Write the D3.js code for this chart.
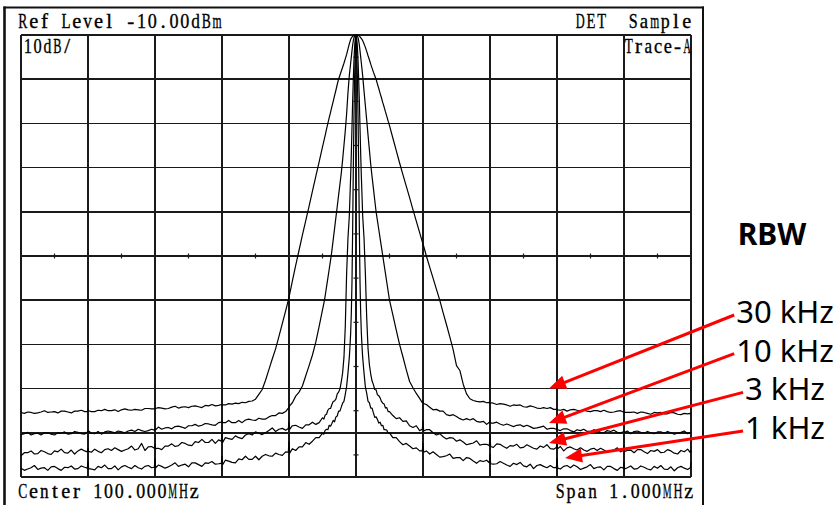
<!DOCTYPE html>
<html>
<head>
<meta charset="utf-8">
<script src="https://cdn.jsdelivr.net/npm/d3@7"></script>
<style>
  html, body { margin: 0; padding: 0; background: #fff; }
  svg { display: block; }
</style>
</head>
<body>
<svg id="chart" width="840" height="505"></svg>
<script>
// ---- Analyzer settings ----
const refLevelDbm = -10;
const dbPerDiv = 10;
const spanKHz = 1000;

// ---- Sweep points: frequency offset from the 100 MHz center, in kHz ----
const freqOffsetKHz = [
  -500,-495,-490,-485,-480,-475,-470,-465,-460,-455,-450,-445,-440,-435,-430,-425,-420,-415,-410,-405,
  -401,-400,-399,
  -395,-390,-385,-380,-375,-370,-365,-360,-355,-350,-345,-340,-335,-330,-325,-320,-315,-310,-305,
  -301,-300,-299,
  -295,-290,-285,-280,-275,-270,-265,-260,-255,-250,-245,-240,-235,-230,-225,-220,-215,-210,-205,
  -201,-200,-199,
  -195,-190,-185,-180,-175,-170,-165,-160,-155,-150,-145,-140,-135,-130,-125,-120,-115,-110,-105,
  -101,-100,-99,
  -95,-90,-85,-80,-75,-70,-65,-60,-55,-50,
  -48,-46,-44,-42,-40,-38,-36,-34,-32,-30,-28,-26,-24,-22,-20,-18,-16,-14,-12,-10,
  -9,-8,-7,-6,-5,-4,-3,-2,-1,0,1,2,3,4,5,6,7,8,9,
  10,12,14,16,18,20,22,24,26,28,30,32,34,36,38,40,42,44,46,48,
  50,55,60,65,70,75,80,85,90,95,
  99,100,101,
  105,110,115,120,125,130,135,140,145,150,155,160,165,170,175,180,185,190,195,
  199,200,201,
  205,210,215,220,225,230,235,240,245,250,255,260,265,270,275,280,285,290,295,
  299,300,301,
  305,310,315,320,325,330,335,340,345,350,355,360,365,370,375,380,385,390,395,
  399,400,401,
  405,410,415,420,425,430,435,440,445,450,455,460,465,470,475,480,485,490,495,
  499,500
];

// ---- Measured level (dBm) per sweep point, one trace per RBW setting ----
const traceRbw30k = [
  -95.4,-95.6,-95.3,-95.4,-95.6,-95.5,-95.3,-95.0,-95.4,-95.3,-95.2,-95.5,-95.1,-95.1,-95.3,-95.5,-95.1,-95.1,-94.9,-95.2,
  -95.2,-94.9,-95.0,
  -95.2,-95.2,-94.9,-95.0,-94.7,-95.0,-95.0,-94.8,-95.2,-94.8,-94.6,-94.8,-94.9,-94.7,-94.8,-94.9,-94.5,-94.5,-94.6,
  -94.6,-94.4,-94.5,
  -94.3,-94.4,-94.6,-94.5,-94.2,-94.0,-94.4,-94.2,-94.1,-94.3,-94.0,-93.9,-94.1,-94.3,-93.8,-93.9,-93.6,-93.9,-93.8,
  -93.6,-93.8,-93.7,
  -93.7,-93.4,-93.5,-93.3,-93.4,-93.1,-93.2,-92.9,-92.8,-92.4,-91.3,-90.2,-88.1,-85.7,-83.3,-81.0,-78.2,-75.3,-72.4,
  -70.0,-69.3,-68.6,
  -65.7,-62.1,-58.7,-55.3,-52.0,-48.7,-45.3,-42.0,-38.7,-35.3,
  -34.0,-32.7,-31.3,-30.0,-28.7,-27.5,-26.2,-25.0,-23.7,-22.5,-21.2,-20.0,-19.1,-18.2,-17.3,-16.4,-15.4,-14.4,-13.2,-12.0,
  -11.5,-11.0,-10.7,-10.5,-10.3,-10.2,-10.1,-10.0,-10.0,-10.0,-10.0,-10.0,-10.1,-10.1,-10.2,-10.4,-10.6,-10.8,-11.0,
  -11.3,-12.0,-12.8,-13.7,-14.7,-15.6,-16.6,-17.5,-18.4,-19.2,-20.0,-21.1,-22.1,-23.2,-24.2,-25.3,-26.3,-27.4,-28.4,-29.5,
  -30.5,-33.3,-36.1,-38.9,-41.6,-44.2,-46.8,-49.5,-52.1,-54.7,
  -56.8,-57.3,-57.8,
  -60.0,-62.5,-65.0,-67.5,-70.0,-72.8,-75.5,-78.3,-81.2,-84.8,-85.9,-89.0,-91.2,-92.3,-92.7,-92.9,-93.0,-92.9,-93.2,
  -93.1,-93.3,-93.2,
  -93.3,-93.6,-93.4,-93.5,-93.7,-94.0,-93.7,-93.8,-93.7,-94.1,-94.2,-93.9,-94.1,-94.4,-94.5,-94.3,-94.5,-94.3,-94.7,
  -94.7,-94.6,-94.8,
  -94.9,-94.7,-95.1,-94.8,-94.7,-94.9,-95.0,-94.9,-95.1,-95.2,-95.0,-95.0,-95.2,-94.9,-95.2,-95.4,-95.3,-95.1,-95.0,
  -95.3,-95.2,-95.4,
  -95.4,-95.4,-95.3,-95.6,-95.3,-95.4,-95.6,-95.8,-95.4,-95.5,-95.4,-95.7,-95.7,-95.4,-95.5,-95.8,-95.9,-95.6,-95.7,
  -95.6,-95.8
];

const traceRbw10k = [
  -100.4,-100.2,-99.9,-100.5,-100.2,-100.1,-100.5,-100.0,-100.0,-100.3,-100.5,-100.0,-100.1,-99.8,-100.3,-100.2,-99.7,-99.9,-100.2,-100.3,
  -99.8,-100.0,-99.6,
  -100.1,-100.2,-99.7,-100.3,-99.8,-99.6,-99.8,-100.0,-99.6,-99.8,-100.0,-99.6,-99.4,-99.7,-99.2,-99.5,-99.7,-99.5,-99.2,
  -99.4,-99.1,-99.3,
  -98.7,-99.2,-98.9,-98.8,-99.1,-98.6,-98.5,-98.7,-99.0,-98.4,-98.4,-98.1,-98.5,-98.3,-97.9,-98.0,-98.2,-98.3,-97.7,
  -97.6,-97.3,-97.7,
  -97.7,-97.2,-97.7,-97.7,-97.2,-97.7,-97.1,-96.9,-97.1,-97.2,-96.7,-96.9,-96.9,-96.4,-96.1,-96.1,-95.5,-95.6,-95.2,
  -94.4,-94.1,-93.9,
  -93.2,-91.7,-90.8,-89.4,-87.1,-84.8,-82.4,-79.5,-75.9,-72.2,
  -70.7,-69.0,-67.0,-65.0,-63.0,-61.0,-58.8,-56.3,-53.8,-51.3,-48.8,-46.3,-43.8,-41.3,-38.3,-35.0,-31.7,-27.8,-23.1,-19.2,
  -17.8,-16.4,-15.0,-13.6,-12.3,-11.3,-10.6,-10.2,-10.1,-10.0,-10.1,-10.2,-10.6,-11.3,-12.3,-13.6,-15.0,-16.4,-17.8,
  -19.3,-22.7,-26.0,-29.3,-32.7,-36.0,-39.3,-42.1,-44.7,-47.4,-50.0,-52.0,-54.0,-56.0,-58.0,-60.0,-62.0,-64.0,-66.0,-68.0,
  -70.0,-73.3,-76.7,-80.0,-82.8,-85.7,-88.4,-89.8,-91.1,-92.2,
  -93.2,-92.9,-93.4,
  -93.6,-94.2,-94.8,-94.7,-95.1,-95.1,-95.9,-96.1,-95.9,-96.3,-96.8,-97.1,-96.8,-97.1,-96.8,-97.4,-97.6,-97.4,-98.1,
  -97.6,-97.3,-97.8,
  -97.8,-97.6,-98.0,-98.3,-98.0,-98.3,-98.6,-98.3,-98.2,-98.6,-98.3,-98.6,-99.0,-98.9,-98.7,-98.5,-99.2,-99.0,-99.0,
  -99.2,-98.9,-99.3,
  -99.5,-99.1,-99.1,-99.5,-99.8,-99.3,-99.5,-99.2,-99.7,-99.7,-99.3,-99.5,-99.9,-100.0,-99.5,-99.7,-99.4,-99.9,-100.0,
  -99.8,-99.6,-99.9,
  -99.6,-100.2,-99.7,-99.6,-99.9,-100.1,-99.7,-100.0,-100.2,-99.8,-99.8,-100.1,-99.7,-100.0,-100.3,-100.1,-99.9,-99.6,-100.2,
  -100.0,-100.1
];

const traceRbw3k = [
  -105.2,-104.5,-104.5,-104.1,-104.8,-104.7,-104.0,-104.3,-104.7,-104.9,-104.1,-104.3,-103.7,-104.5,-104.6,-103.9,-104.8,-104.1,-103.7,-104.1,
  -104.3,-103.5,-104.2,
  -104.4,-103.7,-104.2,-104.5,-103.8,-103.6,-104.0,-103.4,-103.8,-104.2,-103.9,-103.6,-103.0,-103.9,-103.6,-102.4,-104.0,-103.2,-103.1,
  -103.5,-102.6,-103.6,
  -103.5,-103.8,-103.0,-103.0,-102.5,-103.1,-102.9,-102.2,-102.4,-102.8,-102.9,-102.0,-102.2,-101.5,-102.2,-102.2,-101.5,-102.4,-101.6,
  -101.9,-99.9,-102.2,
  -101.1,-101.3,-101.5,-100.7,-101.1,-101.3,-100.5,-100.2,-100.5,-99.8,-100.1,-100.4,-100.0,-99.5,-98.9,-99.7,-99.2,-99.0,-99.4,
  -99.0,-97.6,-99.2,
  -98.4,-98.3,-98.7,-99.0,-98.2,-98.2,-97.6,-98.1,-97.7,-96.6,
  -96.9,-96.0,-95.8,-94.9,-94.5,-94.5,-93.6,-92.9,-92.8,-92.4,-91.2,-90.8,-90.1,-88.5,-86.5,-83.0,-76.0,-64.0,-56.0,-51.0,
  -46.5,-42.0,-37.0,-31.0,-25.0,-20.0,-15.5,-12.5,-10.6,-10.0,-10.6,-12.5,-15.5,-20.0,-25.0,-31.0,-37.0,-42.0,-46.5,
  -51.0,-56.0,-64.0,-74.0,-81.0,-84.6,-86.7,-88.3,-89.1,-90.2,-90.3,-91.4,-91.6,-92.1,-92.9,-93.3,-93.5,-94.4,-94.3,-95.2,
  -95.2,-96.1,-96.8,-96.6,-97.4,-97.3,-98.4,-98.8,-98.4,-99.5,
  -99.2,-97.3,-99.6,
  -99.3,-99.3,-100.0,-100.5,-100.2,-100.9,-101.4,-101.1,-101.2,-101.9,-101.6,-102.1,-102.7,-102.5,-102.3,-101.8,-102.8,-102.6,-102.6,
  -102.9,-100.5,-103.1,
  -103.3,-102.5,-102.6,-103.1,-103.5,-102.9,-103.0,-102.6,-103.4,-103.3,-102.7,-103.1,-103.5,-103.7,-103.0,-103.3,-102.7,-103.6,-103.7,
  -103.3,-102.5,-103.6,
  -103.1,-104.1,-103.4,-103.2,-103.6,-103.9,-103.4,-103.9,-104.2,-103.7,-103.5,-104.0,-103.5,-103.9,-104.4,-104.1,-103.9,-103.4,-104.3,
  -104.0,-103.0,-104.2,
  -104.0,-103.9,-104.5,-103.8,-103.8,-104.3,-104.7,-104.0,-104.2,-103.8,-104.5,-104.4,-103.8,-104.1,-104.6,-104.8,-104.0,-104.3,-103.7,
  -104.5,-103.9
];

const traceRbw1k = [
  -108.0,-108.5,-108.2,-107.9,-107.4,-108.3,-108.0,-107.9,-108.5,-107.7,-107.6,-108.1,-108.5,-107.8,-107.9,-107.5,-108.2,-108.1,-107.5,-107.8,
  -108.0,-106.5,-108.1,
  -108.2,-108.4,-107.6,-107.9,-107.3,-108.1,-108.1,-107.5,-108.4,-107.7,-107.4,-107.8,-108.1,-107.4,-107.9,-108.2,-107.6,-107.4,-107.9,
  -107.8,-105.9,-107.9,
  -107.3,-107.6,-108.0,-107.7,-107.3,-106.8,-107.6,-107.3,-107.1,-107.7,-106.8,-106.8,-107.2,-107.6,-106.8,-106.9,-106.5,-107.1,-107.0,
  -106.9,-105.3,-107.2,
  -106.2,-106.4,-106.7,-106.8,-105.9,-106.1,-105.3,-106.0,-106.0,-105.3,-106.1,-105.3,-104.9,-105.2,-105.3,-104.6,-104.9,-105.1,-104.3,
  -104.4,-102.0,-104.6,
  -103.6,-104.0,-103.2,-103.2,-102.2,-102.6,-101.9,-101.1,-101.1,-100.1,
  -100.3,-99.4,-99.2,-99.3,-98.3,-98.5,-97.9,-97.2,-97.5,-96.4,-96.2,-95.1,-95.1,-94.2,-93.3,-92.9,-91.3,-89.5,-86.5,-83.0,
  -80.5,-77.5,-73.0,-66.0,-54.0,-40.0,-28.0,-19.0,-13.0,-10.0,-13.0,-19.0,-28.0,-40.0,-54.0,-66.0,-73.0,-77.5,-80.5,
  -83.0,-86.5,-89.6,-91.1,-92.9,-93.2,-94.4,-94.4,-95.5,-96.5,-96.4,-97.0,-97.8,-97.6,-98.4,-98.3,-99.3,-99.3,-99.4,-100.1,
  -100.0,-101.1,-101.1,-102.0,-102.7,-102.4,-103.0,-103.6,-103.4,-104.1,
  -104.1,-102.4,-104.4,
  -104.1,-104.8,-104.3,-104.9,-105.5,-105.4,-105.2,-104.8,-105.8,-105.6,-105.6,-106.3,-105.6,-105.8,-106.4,-106.9,-106.3,-106.5,-106.2,
  -106.8,-104.8,-107.0,
  -107.1,-107.0,-106.5,-106.9,-107.3,-107.6,-106.9,-107.2,-106.7,-107.5,-107.7,-107.1,-108.1,-107.4,-107.2,-107.6,-107.9,-107.4,-107.9,
  -107.9,-105.8,-108.0,
  -108.2,-107.6,-107.4,-107.9,-107.3,-107.7,-108.3,-108.0,-107.7,-107.2,-108.1,-107.8,-107.7,-108.4,-107.6,-107.6,-108.1,-108.5,-107.8,
  -108.0,-106.7,-108.2,
  -107.9,-107.5,-108.2,-108.1,-107.5,-107.8,-108.2,-108.4,-107.6,-108.0,-107.4,-108.2,-108.3,-107.7,-108.6,-107.9,-107.6,-108.0,-108.3,
  -107.9,-106.6
];

// ---- Screen annotations ----
const headerLeft = "Ref Level -10.00dBm";
const headerDet = "DET";
const headerDetMode = "Sample";
const scaleLabel = "10dB/";
const traceLabel = "Trace-A";
const centerLabel = "Center 100.000MHz";
const spanLabel = "Span 1.000MHz";

// ---- RBW legend: label and the trace point each arrow points at ----
const rbwTitle = "RBW";
const rbwLabels = ["30 kHz", "10 kHz", "3 kHz", "1 kHz"];
const arrowTipFreqKHz = [288, 288, 288, 312];
const arrowTipLevelDbm = [-90.0, -97.8, -102.3, -105.7];

// ---- Layout ----
const svg = d3.select("#chart");
const plot = { left: 21, top: 35, right: 691, bottom: 477 };

const x = d3.scaleLinear()
  .domain([-spanKHz / 2, spanKHz / 2])
  .range([plot.left, plot.right]);
const y = d3.scaleLinear()
  .domain([refLevelDbm - 10 * dbPerDiv, refLevelDbm])
  .range([plot.bottom, plot.top]);

// Instrument bezel lines
const bezel = svg.append("g").attr("fill", "none").attr("stroke", "#111");
bezel.append("line").attr("x1", 4.5).attr("x2", 4.5).attr("y1", 6.5).attr("y2", 505).attr("stroke-width", 2.6);
bezel.append("line").attr("x1", 3.5).attr("x2", 704).attr("y1", 7.5).attr("y2", 7.5).attr("stroke-width", 2);
bezel.append("line").attr("x1", 703).attr("x2", 703).attr("y1", 6.5).attr("y2", 505).attr("stroke-width", 2);

// Graticule: 10 x 10 divisions
const grid = svg.append("g")
  .attr("stroke", "#1a1a1a")
  .attr("stroke-width", 1.7)
  .attr("shape-rendering", "crispEdges");
grid.selectAll("line.v").data(x.ticks(10)).join("line")
  .attr("class", "v")
  .attr("x1", d => x(d)).attr("x2", d => x(d))
  .attr("y1", plot.top).attr("y2", plot.bottom);
grid.selectAll("line.h").data(y.ticks(10)).join("line")
  .attr("class", "h")
  .attr("y1", d => y(d)).attr("y2", d => y(d))
  .attr("x1", plot.left).attr("x2", plot.right);

// Half-division ticks on the center lines
const xCenter = x(0);
const yCenter = y(refLevelDbm - 5 * dbPerDiv);
const xMinor = d3.range(-spanKHz / 2 + 50, spanKHz / 2, 100);
const yMinor = d3.range(refLevelDbm - 10 * dbPerDiv + 5, refLevelDbm, 10);
const ticks = svg.append("g").attr("stroke", "#1a1a1a").attr("stroke-width", 1.2);
ticks.selectAll("line.xm").data(xMinor).join("line")
  .attr("x1", d => x(d)).attr("x2", d => x(d))
  .attr("y1", yCenter - 2.5).attr("y2", yCenter + 2.5);
ticks.selectAll("line.ym").data(yMinor).join("line")
  .attr("y1", d => y(d)).attr("y2", d => y(d))
  .attr("x1", xCenter - 2.5).attr("x2", xCenter + 2.5);

// Traces
const traces = [traceRbw30k, traceRbw10k, traceRbw3k, traceRbw1k];
const line = d3.line()
  .defined(d => d[1] != null && !isNaN(d[1]))
  .x(d => x(d[0]))
  .y(d => y(d[1]))
  .curve(d3.curveLinear);
svg.append("g")
  .attr("fill", "none")
  .attr("stroke", "#000")
  .attr("stroke-width", 1.2)
  .attr("stroke-linejoin", "round")
  .selectAll("path")
  .data(traces)
  .join("path")
  .attr("d", t => line(freqOffsetKHz.map((f, i) => [f, t[i]])));

// Screen text: fixed-pitch cells, one glyph per cell (the instrument's character grid).
// Glyphs wider than a cell are squeezed horizontally with a transform.
const screenFont = "'Liberation Serif', 'DejaVu Serif', serif";
const screenLayer = svg.append("g")
  .attr("font-family", screenFont)
  .attr("font-size", 21)
  .attr("fill", "#000")
  .attr("stroke", "#000")
  .attr("stroke-width", 0.35);
function screenText(str, x0, baseline, width) {
  const chars = Array.from(str);
  const pitch = width / chars.length;
  const maxGlyph = pitch * 0.84;
  chars.forEach((ch, i) => {
    if (ch === " ") return;
    const cx = x0 + (i + 0.5) * pitch;
    const t = screenLayer.append("text")
      .attr("x", 0)
      .attr("y", 0)
      .attr("text-anchor", "middle")
      .text(ch);
    const w = t.node().getBBox().width;
    const sx = w > maxGlyph ? maxGlyph / w : 1;
    t.attr("transform", `translate(${cx},${baseline}) scale(${sx.toFixed(3)},1)`);
  });
}
screenText(headerLeft, 17.5, 28, 205);
screenText(headerDet, 575, 28, 32);
screenText(headerDetMode, 628, 28, 64);
screenText(scaleLabel, 23, 53, 49);
screenText(traceLabel, 624, 53, 68);
screenText(centerLabel, 17.5, 498, 182);
screenText(spanLabel, 555, 498, 139);

// RBW legend with arrows
const legendX = 785;
svg.append("text")
  .attr("x", 772).attr("y", 245)
  .attr("text-anchor", "middle")
  .attr("font-family", "'Noto Sans', 'Open Sans', sans-serif")
  .attr("font-weight", "bold")
  .attr("font-size", 30)
  .attr("fill", "#000")
  .text(rbwTitle);

const arrows = svg.append("g");
rbwLabels.forEach((label, i) => {
  const baseline = 323 + i * 38.7;
  const t = svg.append("text")
    .attr("x", legendX).attr("y", baseline)
    .attr("text-anchor", "middle")
    .attr("font-family", "'Noto Sans', 'Open Sans', sans-serif")
    .attr("font-size", 31)
    .attr("fill", "#000")
    .text(label);
  const bb = t.node().getBBox();
  const sx = bb.x - 2, sy = baseline - 8;
  const tx = x(arrowTipFreqKHz[i]), ty = y(arrowTipLevelDbm[i]);
  const dx = tx - sx, dy = ty - sy, len = Math.hypot(dx, dy);
  const ux = dx / len, uy = dy / len;
  const headLen = 17, headHalf = 7;
  const bx = tx - ux * headLen, by = ty - uy * headLen;
  arrows.append("line")
    .attr("x1", sx).attr("y1", sy)
    .attr("x2", bx + ux * 2).attr("y2", by + uy * 2)
    .attr("stroke", "#ff0000").attr("stroke-width", 3);
  arrows.append("path")
    .attr("d", `M${tx},${ty}L${bx - uy * headHalf},${by + ux * headHalf}L${bx + uy * headHalf},${by - ux * headHalf}Z`)
    .attr("fill", "#ff0000");
});
</script>
</body>
</html>
